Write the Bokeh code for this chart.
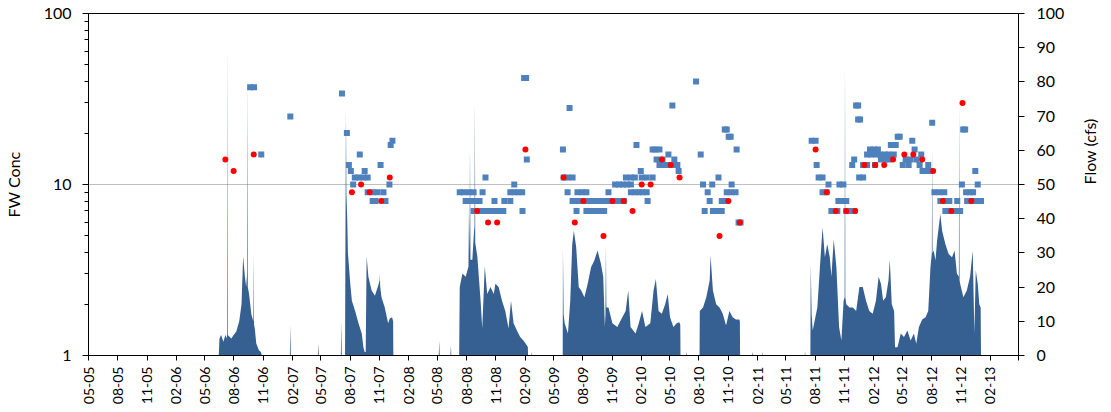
import math
import pandas as pd
from bokeh.plotting import figure
from bokeh.models import (Range1d, LinearAxis, LinearScale, FixedTicker,
                          DatetimeTickFormatter, BasicTickFormatter, ColumnDataSource)
from bokeh.embed import file_html
from bokeh.resources import INLINE

FONT = "Lato"

# ---------------- data (dates as decimal years) ----------------
flow_year = [
    2006.450, 2006.456, 2006.470, 2006.490, 2006.507, 2006.521, 2006.524, 2006.527, 2006.558, 2006.578,
    2006.601, 2006.626, 2006.646, 2006.660, 2006.675, 2006.686, 2006.694, 2006.697, 2006.700, 2006.711,
    2006.731, 2006.748, 2006.751, 2006.754, 2006.760, 2006.773, 2006.796, 2006.813, 2006.822,
    2007.062, 2007.066, 2007.070, 2007.303, 2007.307, 2007.311, 2007.501, 2007.505, 2007.509,
    2007.537, 2007.540, 2007.545, 2007.549, 2007.556, 2007.562, 2007.582, 2007.596, 2007.624, 2007.653,
    2007.681, 2007.695, 2007.706, 2007.715, 2007.723, 2007.738, 2007.766, 2007.794, 2007.823, 2007.835,
    2007.837, 2007.840, 2007.851, 2007.879, 2007.908, 2007.922, 2007.942, 2007.951, 2007.953,
    2008.343, 2008.347, 2008.351, 2008.443, 2008.447, 2008.451,
    2008.518, 2008.523, 2008.546, 2008.574, 2008.598, 2008.602, 2008.607, 2008.611, 2008.615, 2008.631,
    2008.645, 2008.650, 2008.653, 2008.656, 2008.674, 2008.702, 2008.716, 2008.738, 2008.759, 2008.787,
    2008.815, 2008.829, 2008.857, 2008.886, 2008.914, 2008.942, 2008.963, 2008.985, 2009.014, 2009.042,
    2009.070, 2009.099, 2009.108, 2009.110, 2009.138, 2009.142, 2009.146,
    2009.408, 2009.410, 2009.416, 2009.425, 2009.453, 2009.473, 2009.490, 2009.504, 2009.524, 2009.546,
    2009.567, 2009.595, 2009.623, 2009.652, 2009.680, 2009.708, 2009.737, 2009.757, 2009.771, 2009.776,
    2009.780, 2009.784, 2009.802, 2009.836, 2009.878, 2009.921, 2009.950, 2009.972, 2009.992, 2010.035,
    2010.063, 2010.091, 2010.120, 2010.162, 2010.190, 2010.210, 2010.233, 2010.261, 2010.290, 2010.312,
    2010.332, 2010.361, 2010.389, 2010.412, 2010.420, 2010.422, 2010.470, 2010.474, 2010.478,
    2010.586, 2010.588, 2010.616, 2010.644, 2010.673, 2010.681, 2010.701, 2010.729, 2010.758, 2010.786,
    2010.814, 2010.843, 2010.871, 2010.899, 2010.928, 2010.933, 2010.935,
    2011.037, 2011.041, 2011.045, 2011.122, 2011.126, 2011.130, 2011.490, 2011.494, 2011.498,
    2011.540, 2011.543, 2011.551, 2011.560, 2011.579, 2011.600, 2011.622, 2011.645, 2011.665, 2011.685,
    2011.707, 2011.721, 2011.741, 2011.764, 2011.787, 2011.807, 2011.826, 2011.835, 2011.838, 2011.841,
    2011.849, 2011.877, 2011.906, 2011.934, 2011.962, 2011.991, 2012.019, 2012.047, 2012.076, 2012.104,
    2012.127, 2012.147, 2012.166, 2012.189, 2012.212, 2012.223, 2012.240, 2012.260, 2012.268, 2012.289,
    2012.317, 2012.345, 2012.374, 2012.402, 2012.430, 2012.450, 2012.473, 2012.501, 2012.530, 2012.553,
    2012.572, 2012.584, 2012.587, 2012.590, 2012.600, 2012.615, 2012.629, 2012.643, 2012.657, 2012.672,
    2012.700, 2012.728, 2012.757, 2012.779, 2012.799, 2012.816, 2012.819, 2012.822, 2012.827, 2012.855,
    2012.884, 2012.912, 2012.935, 2012.949, 2012.961, 2012.978, 2012.991, 2013.003, 2013.006,
]
flow_cfs = [
    0, 5, 6, 4, 6, 5, 92, 6, 5, 6,
    7, 10, 15, 29, 23, 20, 24, 82, 20, 18,
    12, 10, 30, 9, 8, 3.5, 1.5, 1, 0,
    0, 9, 0, 0, 3.5, 0, 0, 10, 0,
    0, 30, 72, 47, 40, 30, 21, 16, 13, 9.4,
    6.4, 2.4, 1, 1, 29, 23, 19, 17.5, 20.5, 22,
    24, 20, 17, 14, 9.4, 10.8, 11.2, 10, 0,
    0, 4.4, 0, 0, 3, 0,
    0, 20, 24, 23, 26, 42, 30, 62, 28, 28,
    36, 38, 75, 33, 29, 16, 8, 26, 18, 20,
    18, 21, 20, 16, 13, 8, 16, 9.4, 7.3, 5.4,
    4.4, 3, 2.5, 0, 0, 1, 0,
    0, 31.7, 12, 9.4, 6.4, 16, 32.6, 36.5, 31.7, 20,
    19, 17, 21, 25.8, 27.8, 30.7, 26.8, 23, 8.3, 12,
    32.6, 14, 14, 9.4, 8.3, 11.2, 13, 19, 8.3, 6.4,
    9.4, 13, 8.3, 9.4, 19, 22.4, 13, 12.2, 15, 18,
    11.2, 8.3, 9.4, 9.7, 9, 0, 0, 1, 0,
    0, 13, 14, 17, 21.9, 29.2, 19, 15, 14, 12.2,
    8.8, 13, 11.2, 10.5, 10.5, 10, 0,
    0, 1, 0, 0, 1, 0, 0, 1, 0,
    0, 26.8, 12, 7.3, 10.5, 14, 25.8, 37.5, 28.7, 32.6,
    28.7, 23, 34, 25.8, 8.3, 4.4, 16, 17, 89, 17,
    15, 14, 14, 13, 20, 20, 16, 13, 12.2, 16,
    23, 21, 16, 17, 22, 28, 15, 13, 2.4, 2.4,
    6.4, 5.4, 7.3, 4.4, 6.4, 3.4, 8.3, 10.5, 11.2, 13,
    25.8, 30, 61, 30, 30.7, 27.8, 33.6, 37.5, 41.4, 36.5,
    32.6, 29.7, 28.7, 30.7, 24, 23, 74.6, 22, 21, 17,
    19, 23, 30.7, 6.4, 24.9, 21, 15, 14, 0,
]

sq_year = [
    2006.720, 2006.754, 2006.816,
    2007.066, 2007.511, 2007.553, 2007.570, 2007.587, 2007.607, 2007.664,
    2007.621, 2007.655, 2007.698, 2007.732, 2007.706,
    2007.732, 2007.775, 2007.817, 2007.868, 2007.843,
    2007.775, 2007.800, 2007.885, 2007.919, 2007.930, 2007.945,
    2008.523, 2008.557, 2008.602, 2008.642, 2008.719, 2008.957, 2008.991, 2009.025, 2009.059,
    2008.744, 2008.991,
    2008.574, 2008.617, 2008.659, 2008.693, 2008.821, 2008.906, 2008.957,
    2008.642, 2008.685, 2008.727, 2008.770, 2008.812, 2008.855, 2008.897, 2009.062,
    2009.076, 2009.093, 2009.099,
    2009.410, 2009.467, 2009.416, 2009.450, 2009.493,
    2009.450, 2009.535, 2009.578, 2009.612,
    2009.493, 2009.527, 2009.561, 2009.595, 2009.629, 2009.663, 2009.697, 2009.731, 2009.765, 2009.799,
    2009.833, 2009.867, 2009.901, 2009.935,
    2009.527, 2009.612, 2009.646, 2009.680, 2009.723, 2009.765,
    2009.802, 2009.859, 2009.893, 2009.927, 2009.961, 2009.995,
    2009.952, 2009.995, 2010.029, 2010.043,
    2009.995, 2010.029, 2010.063, 2010.097, 2010.131,
    2010.080, 2010.088, 2010.131, 2010.182, 2010.139,
    2010.182, 2010.207, 2010.241, 2010.216, 2010.267,
    2010.241, 2010.275, 2010.318, 2010.352, 2010.395,
    2010.318, 2010.369, 2010.406, 2010.352,
    2010.556, 2010.596, 2010.616, 2010.695, 2010.862, 2010.749,
    2010.656, 2010.820, 2010.854, 2010.896, 2010.803, 2010.820, 2010.837, 2010.854, 2010.905,
    2010.673, 2010.777, 2010.811, 2010.630, 2010.701, 2010.735, 2010.777, 2010.922, 2010.939,
    2011.551, 2011.585, 2011.594, 2011.611, 2011.645, 2011.696, 2011.645, 2011.679,
    2011.790, 2011.824, 2011.781, 2011.815, 2011.849,
    2011.721, 2011.772, 2011.849, 2011.892, 2011.917,
    2011.934, 2011.951, 2011.951, 2011.968, 2011.960, 2011.994, 2011.900, 2011.917,
    2011.994, 2012.028, 2012.053, 2012.087, 2012.121,
    2012.028, 2012.062, 2012.104, 2012.138, 2012.181, 2012.215, 2012.257,
    2012.096, 2012.147, 2012.181, 2012.215, 2012.232, 2012.274, 2012.291, 2012.308,
    2012.334, 2012.385, 2012.416, 2012.436, 2012.359, 2012.402, 2012.453,
    2012.493, 2012.479, 2012.553, 2012.504, 2012.538, 2012.564, 2012.587,
    2012.606, 2012.649, 2012.691,
    2012.657, 2012.700, 2012.734, 2012.802, 2012.887, 2012.929, 2012.972, 2013.006,
    2012.700, 2012.742, 2012.785, 2012.827,
    2012.853, 2012.870, 2012.842, 2012.978, 2012.878, 2012.912, 2012.938, 2012.957,
]
sq_conc = [
    37, 37, 15,
    25, 34, 20, 13, 12, 10, 15,
    11, 11, 11, 11, 12,
    9, 9, 9, 9, 13,
    8, 8, 8, 10, 17, 18,
    9, 9, 9, 9, 9, 9, 9, 9, 9,
    11, 10,
    8, 8, 8, 8, 8, 8, 8,
    7, 7, 7, 7, 7, 7, 7, 7,
    42, 42, 14,
    16, 28, 11, 11, 11,
    9, 9, 9, 9,
    8, 8, 8, 8, 8, 8, 8, 8, 8, 8,
    8, 8, 8, 8,
    7, 7, 7, 7, 7, 7,
    9, 10, 10, 10, 10, 10,
    11, 11, 11, 17,
    9, 9, 9, 9, 9,
    12, 11, 11, 11, 8,
    16, 16, 16, 14, 14,
    13, 13, 13, 13, 13,
    15, 14, 12, 29,
    40, 15, 10, 10, 10, 11,
    9, 9, 9, 9, 21, 21, 19, 19, 16,
    8, 8, 8, 7, 7, 7, 7, 6, 6,
    18, 18, 13, 11, 11, 10, 9, 9,
    10, 10, 8, 8, 8,
    7, 7, 7, 7, 7,
    29, 29, 24, 24, 11, 11, 13, 14,
    13, 13, 16, 16, 16,
    15, 15, 15, 15, 15, 15, 15,
    13, 14, 14, 14, 17, 17, 19, 19,
    13, 13, 18, 16, 14, 14, 14,
    15, 13, 13, 12, 12, 12, 23,
    9, 9, 9,
    8, 8, 8, 8, 8, 8, 8, 8,
    7, 7, 7, 7,
    21, 21, 10, 10, 9, 9, 9, 12,
]

dot_year = [
    2006.507, 2006.578, 2006.751,
    2007.596, 2007.675, 2007.749, 2007.849, 2007.922,
    2008.672, 2008.766, 2008.844, 2009.087,
    2009.416, 2009.512, 2009.586, 2009.759, 2009.836, 2009.933, 2010.009, 2010.088, 2010.165,
    2010.261, 2010.338, 2010.414,
    2010.758, 2010.834, 2010.933,
    2011.585, 2011.681, 2011.758, 2011.849, 2011.926, 2012.005, 2012.098, 2012.175, 2012.251,
    2012.348, 2012.425, 2012.501, 2012.595,
    2012.679, 2012.751, 2012.847, 2012.923,
]
dot_conc = [
    14, 12, 15,
    9, 10, 9, 8, 11,
    7, 6, 6, 16,
    11, 6, 8, 5, 8, 8, 7, 10, 10,
    14, 13, 11,
    5, 8, 6,
    16, 9, 7, 7, 7, 13, 13, 13, 14,
    15, 15, 14, 12,
    8, 7, 30, 8,
]

x_start, x_end = "2005-05-01", "2013-05-01"
conc_range = (1, 100)
flow_range = (0, 100)
flow_ticks = list(range(0, 101, 10))


def to_datetime(years):
    out = []
    for y in years:
        yr = int(math.floor(y))
        a = pd.Timestamp(year=yr, month=1, day=1)
        b = pd.Timestamp(year=yr + 1, month=1, day=1)
        out.append(a + (b - a) * (y - yr))
    return pd.to_datetime(out).values


def ms(ts):
    return pd.Timestamp(ts).value // 10**6


flow_src = ColumnDataSource(dict(x=to_datetime(flow_year), y=flow_cfs))
sq_src = ColumnDataSource(dict(x=to_datetime(sq_year), y=sq_conc))
dot_src = ColumnDataSource(dict(x=to_datetime(dot_year), y=dot_conc))

p = figure(width=1111, height=410, x_axis_type="datetime", y_axis_type="log",
           x_range=Range1d(pd.Timestamp(x_start), pd.Timestamp(x_end)),
           y_range=Range1d(*conc_range),
           output_backend="svg", toolbar_location=None,
           min_border_left=84, min_border_right=87, min_border_top=13, min_border_bottom=55)
p.extra_y_ranges = {"flow": Range1d(*flow_range)}
p.extra_y_scales = {"flow": LinearScale()}

p.background_fill_color = "white"
p.border_fill_color = "white"
p.outline_line_color = "black"
p.outline_line_width = 1

p.varea(x="x", y1=0, y2="y", source=flow_src, y_range_name="flow",
        fill_color="#366092", fill_alpha=1.0)
p.scatter(x="x", y="y", source=sq_src, marker="square", size=6,
          fill_color="#4F81BD", line_color=None)
p.scatter(x="x", y="y", source=dot_src, marker="circle", size=6,
          fill_color="#FF0000", line_color=None)

# grid
p.xgrid.visible = False
p.ygrid.grid_line_color = "#BFBFBF"
p.ygrid.grid_line_width = 1

# x axis
tick_dates = pd.date_range(x_start, "2013-02-01", freq="3MS")
xa = p.xaxis[0]
xa.ticker = FixedTicker(ticks=[ms(t) for t in tick_dates], minor_ticks=[ms(x_end)])
xa.formatter = DatetimeTickFormatter(days="%m-%y", months="%m-%y", years="%m-%y")
xa.major_label_orientation = math.pi / 2
xa.major_tick_in = 0
xa.major_tick_out = 5
xa.minor_tick_in = 0
xa.minor_tick_out = 5
xa.major_label_standoff = 6
xa.major_label_text_font = FONT
xa.major_label_text_font_size = "14px"
xa.major_label_text_color = "black"
xa.axis_line_color = "black"
xa.major_tick_line_color = "black"
xa.minor_tick_line_color = "black"

# left (log) axis
ya = p.yaxis[0]
ya.ticker = FixedTicker(ticks=[1, 10, 100],
                        minor_ticks=[2, 3, 4, 5, 6, 7, 8, 9, 20, 30, 40, 50, 60, 70, 80, 90])
ya.formatter = BasicTickFormatter()
ya.major_tick_in = 0
ya.major_tick_out = 6
ya.minor_tick_in = 0
ya.minor_tick_out = 4
ya.major_label_standoff = 11
ya.major_label_text_font = FONT
ya.major_label_text_font_size = "16px"
ya.major_label_text_color = "black"
ya.axis_line_color = "black"
ya.major_tick_line_color = "black"
ya.minor_tick_line_color = "black"
ya.axis_label = "FW Conc"
ya.axis_label_text_font = FONT
ya.axis_label_text_font_size = "16px"
ya.axis_label_text_font_style = "normal"
ya.axis_label_text_color = "black"
ya.axis_label_standoff = 18

# right (flow) axis
ra = LinearAxis(y_range_name="flow", ticker=FixedTicker(ticks=flow_ticks))
ra.major_tick_in = 0
ra.major_tick_out = 6
ra.minor_tick_line_color = None
ra.major_label_standoff = 12
ra.major_label_text_font = FONT
ra.major_label_text_font_size = "16px"
ra.major_label_text_color = "black"
ra.axis_line_color = "black"
ra.major_tick_line_color = "black"
ra.formatter = BasicTickFormatter()
ra.axis_label = "Flow (cfs)"
ra.axis_label_text_font = FONT
ra.axis_label_text_font_size = "16px"
ra.axis_label_text_font_style = "normal"
ra.axis_label_text_color = "black"
ra.axis_label_standoff = 22
if "axis_label_orientation" in LinearAxis.properties():
    ra.axis_label_orientation = math.pi / 2
p.add_layout(ra, "right")

open("out.html", "w").write(file_html(p, INLINE))
